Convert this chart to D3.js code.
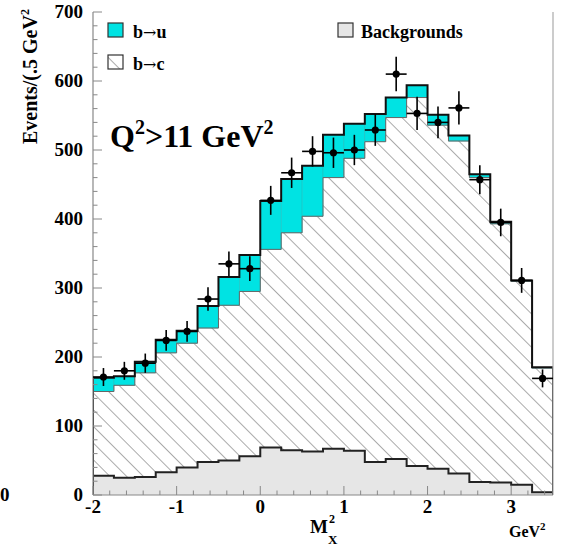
<!DOCTYPE html>
<html><head><meta charset="utf-8">
<script src="https://cdn.jsdelivr.net/npm/d3@7"></script>
<style>body{margin:0;background:#fff}svg{display:block}text{font-family:"Liberation Serif","Times New Roman",serif;font-weight:bold;fill:#000}</style>
</head><body>
<script>
// Bin edges (GeV^2)
const edges = [-2,-1.75,-1.5,-1.25,-1,-0.75,-0.5,-0.25,0,0.25,0.5,0.75,1,1.25,1.5,1.75,2,2.25,2.5,2.75,3,3.25,3.5];
// Data points (events per bin) and errors
const dataVals = [171,180,191,224,237,284,335,328,427,467,498,496,500,529,610,553,540,561,457,395,311,169];
const dataErr  = [13,13,14,15,15,17,18,18,21,22,22,22,22,23,25,24,23,24,21,20,18,13];
// Stacked MC: total (b->u + b->c + bkg), b->c + bkg, bkg
const totalVals = [170,172,193,225,238,274,316,348,426,458,477,522,538,552,576,594,551,521,465,396,311,185];
const bcVals    = [150,159,177,206,220,242,275,295,356,380,404,460,488,512,547,576,536,513,460,393,310,184];
const bkgVals   = [28,25,26,33,40,48,50,56,69,65,63,67,64,48,52,42,38,31,19,18,15,4];
const yTicks = [0,100,200,300,400,500,600,700];
const xTicks = [-2,-1,0,1,2,3];

const W=567,H=547;
const svg=d3.select("body").append("svg").attr("width",W).attr("height",H);
const x=d3.scaleLinear().domain([-2,3.5]).range([93,553]);
const y=d3.scaleLinear().domain([0,700]).range([495,12]);

const defs=svg.append("defs");
const pat=defs.append("pattern").attr("id","hatch").attr("patternUnits","userSpaceOnUse")
  .attr("width",11.8).attr("height",11.8).attr("patternTransform","rotate(-45)");
pat.append("rect").attr("width",11.8).attr("height",11.8).attr("fill","#fff");
pat.append("line").attr("x1",0).attr("y1",0).attr("x2",0).attr("y2",11.8).attr("stroke","#666").attr("stroke-width",1.1);
defs.append("clipPath").attr("id","clip").append("rect").attr("x",93).attr("y",0).attr("width",460).attr("height",495);

const bins=d3.range(dataVals.length).map(i=>({x0:edges[i],x1:edges[i+1],d:dataVals[i],e:dataErr[i],t:totalVals[i],c:bcVals[i],b:bkgVals[i]}));
const stepPts=(key)=>{const p=[[edges[0],0]];bins.forEach(b=>{p.push([b.x0,b[key]]);p.push([b.x1,b[key]]);});p.push([edges[edges.length-1],0]);return p;};
const line=d3.line().x(p=>x(p[0])).y(p=>y(p[1]));

const g=svg.append("g").attr("clip-path","url(#clip)");
// hatched b->c (from 0)
g.append("path").attr("d",line(stepPts("c"))+"Z").attr("fill","url(#hatch)");
// cyan b->u boxes
g.selectAll("rect.bu").data(bins).join("rect").attr("class","bu")
  .attr("x",b=>x(b.x0)).attr("width",b=>x(b.x1)-x(b.x0))
  .attr("y",b=>y(b.t)).attr("height",b=>y(b.c)-y(b.t))
  .attr("fill","#00e3e3").attr("stroke","#2bb").attr("stroke-width",0.5);
// b->c boundary
const stepOpen=(key)=>{const p=[];bins.forEach(b=>{p.push([b.x0,b[key]]);p.push([b.x1,b[key]]);});return p;};
g.append("path").attr("d",line(stepOpen("c"))).attr("fill","none").attr("stroke","#666").attr("stroke-width",1);
// background
g.append("path").attr("d",line(stepPts("b"))+"Z").attr("fill","#e6e6e6");
g.append("path").attr("d",line(stepOpen("b"))).attr("fill","none").attr("stroke","#222").attr("stroke-width",2);
// total outline
g.append("path").attr("d",line(stepPts("t"))).attr("fill","none").attr("stroke","#111").attr("stroke-width",2);

// axes frame
svg.append("line").attr("x1",93).attr("x2",93).attr("y1",12).attr("y2",495).attr("stroke","#888").attr("stroke-width",1.2);
svg.append("line").attr("x1",553).attr("x2",553).attr("y1",12).attr("y2",495).attr("stroke","#aaa").attr("stroke-width",1.2);
svg.append("line").attr("x1",93).attr("x2",553).attr("y1",495).attr("y2",495).attr("stroke","#888").attr("stroke-width",1.2);
// y ticks
const yMinor=d3.range(0,701,20);
svg.selectAll("line.ym").data(yMinor).join("line").attr("x1",93).attr("x2",v=>v%100===0?102:97.5)
  .attr("y1",v=>y(v)).attr("y2",v=>y(v)).attr("stroke","#888").attr("stroke-width",1);
svg.selectAll("text.yl").data(yTicks).join("text").attr("x",83).attr("y",v=>y(v)+6).attr("text-anchor","end")
  .attr("font-size",19).text(v=>v);
// x ticks
const xMinor=d3.range(-2,3.41,0.2).map(v=>Math.round(v*10)/10);
svg.selectAll("line.xm").data(xMinor).join("line").attr("x1",v=>x(v)).attr("x2",v=>x(v))
  .attr("y1",495).attr("y2",v=>Number.isInteger(v)?486:490.5).attr("stroke","#888").attr("stroke-width",1);
svg.selectAll("text.xl").data(xTicks).join("text").attr("x",v=>x(v)).attr("y",513).attr("text-anchor","middle")
  .attr("font-size",19).text(v=>v);

// data points
const dp=svg.append("g");
bins.forEach(b=>{
  const cx=x((b.x0+b.x1)/2);
  dp.append("line").attr("x1",x(b.x0)).attr("x2",x(b.x1)).attr("y1",y(b.d)).attr("y2",y(b.d)).attr("stroke","#000").attr("stroke-width",1.6);
  dp.append("line").attr("x1",cx).attr("x2",cx).attr("y1",y(b.d-b.e)).attr("y2",y(b.d+b.e)).attr("stroke","#000").attr("stroke-width",1.6);
  dp.append("circle").attr("cx",cx).attr("cy",y(b.d)).attr("r",3.6).attr("fill","#000");
});

// legend
function legText(xp,yp,a,b){
  const t=svg.append("text").attr("x",xp).attr("y",yp).attr("font-size",18);
  t.append("tspan").text(a);
  t.append("tspan").attr("font-family","DejaVu Serif").attr("font-weight","normal").attr("font-size",16).text("→");
  t.append("tspan").text(b);
}
svg.append("rect").attr("x",108).attr("y",23).attr("width",15).attr("height",14).attr("fill","#00e3e3").attr("stroke","#333").attr("stroke-width",1.2);
legText(133,38,"b","u");
svg.append("rect").attr("x",108).attr("y",55).attr("width",15).attr("height",14).attr("fill","url(#hatch)").attr("stroke","#333").attr("stroke-width",1.2);
legText(133,70,"b","c");
svg.append("rect").attr("x",338).attr("y",23).attr("width",15).attr("height",14).attr("fill","#e6e6e6").attr("stroke","#333").attr("stroke-width",1.2);
svg.append("text").attr("x",361).attr("y",38).attr("font-size",18).text("Backgrounds");

// Q2 label
const q=svg.append("text").attr("x",110).attr("y",147).attr("font-size",32);
q.append("tspan").text("Q");
q.append("tspan").attr("font-size",20).attr("dy",-13).text("2");
q.append("tspan").attr("dy",13).text(">11 GeV");
q.append("tspan").attr("font-size",20).attr("dy",-13).text("2");

// y label
const yl=svg.append("text").attr("transform","translate(37,144) rotate(-90)").attr("font-size",20);
yl.append("tspan").text("Events/(.5 GeV");
yl.append("tspan").attr("font-size",12).attr("dy",-8).text("2");
// stray 0 at far left
svg.append("text").attr("x",0).attr("y",501).attr("font-size",19).text("0");

// x label
svg.append("text").attr("x",310).attr("y",533).attr("font-size",19).text("M");
svg.append("text").attr("x",328).attr("y",544).attr("font-size",13).text("X");
svg.append("text").attr("x",329).attr("y",523).attr("font-size",12).text("2");
const gl=svg.append("text").attr("x",509).attr("y",537).attr("font-size",16);
gl.append("tspan").text("GeV");
gl.append("tspan").attr("font-size",11).attr("dy",-7).text("2");
</script>
</body></html>
